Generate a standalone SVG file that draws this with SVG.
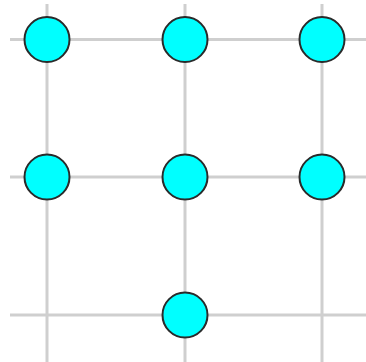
<svg xmlns="http://www.w3.org/2000/svg" width="366" height="362" viewBox="0 0 366 362">
<style>
.g{stroke:#cfcfcf;stroke-width:3;fill:none}
.n{fill:#00ffff;stroke:#2a2a2a;stroke-width:2}
</style>
<rect width="366" height="362" fill="#ffffff"/>
<g id="connectors">
<line class="g" x1="10" y1="39.5" x2="366" y2="39.5"/>
<line class="g" x1="10" y1="177" x2="366" y2="177"/>
<line class="g" x1="10" y1="315" x2="366" y2="315"/>
<line class="g" x1="47" y1="4" x2="47" y2="362"/>
<line class="g" x1="185" y1="4" x2="185" y2="362"/>
<line class="g" x1="322" y1="4" x2="322" y2="362"/>
</g>
<g id="n1"><circle class="n" cx="47" cy="39.5" r="22.5"/></g>
<g id="n2"><circle class="n" cx="185" cy="39.5" r="22.5"/></g>
<g id="n3"><circle class="n" cx="322" cy="39.5" r="22.5"/></g>
<g id="n4"><circle class="n" cx="47" cy="177" r="22.5"/></g>
<g id="n5"><circle class="n" cx="185" cy="177" r="22.5"/></g>
<g id="n6"><circle class="n" cx="322" cy="177" r="22.5"/></g>
<g id="n7"><circle class="n" cx="185" cy="315" r="22.5"/></g>
</svg>
